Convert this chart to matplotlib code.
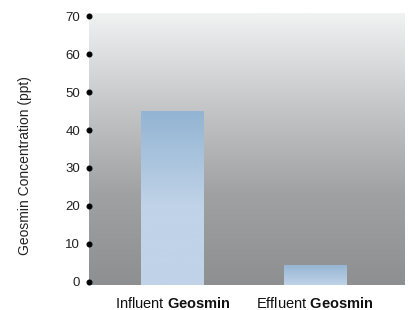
import numpy as np
import matplotlib
matplotlib.use("Agg")
import matplotlib.pyplot as plt
from matplotlib.colors import LinearSegmentedColormap

categories = ["Influent", "Effluent"]
values = [45, 4.5]
yticks = [0, 10, 20, 30, 40, 50, 60, 70]

plt.rcParams["font.family"] = ["Liberation Sans", "DejaVu Sans"]
plt.rcParams["mathtext.fontset"] = "custom"
plt.rcParams["mathtext.rm"] = "Liberation Sans"
plt.rcParams["mathtext.bf"] = "Liberation Sans:bold"

fig = plt.figure(figsize=(4.09, 3.10), dpi=100)
ax = fig.add_axes([89 / 409, 25 / 310, 315 / 409, 272 / 310])

ymin, ymax = -0.8, 70.8

# background gradient, light at top, darker grey at bottom
bg_cmap = LinearSegmentedColormap.from_list("bg", ["#f1f2f2", "#c6c7c9", "#a0a1a3", "#8e8f91"])
grad = np.linspace(0, 1, 256).reshape(-1, 1)
ax.imshow(grad, cmap=bg_cmap, extent=[0, 1, 0, 1], origin="upper",
          transform=ax.transAxes, aspect="auto", zorder=0)

# bars with blue gradient fading over the top ~25 units
x = np.arange(len(categories))
bars = ax.bar(x, [v - ymin for v in values], bottom=ymin, width=0.44,
              color="none", zorder=2)
for b in bars:
    bx, by = b.get_x(), b.get_y()
    bw, bh = b.get_width(), b.get_height()
    stop = min(1.0, 25 / bh)
    stops = [(0, "#93b4d3"), (stop, "#c0d3e8")]
    if stop < 1:
        stops.append((1, "#c0d3e8"))
    bar_cmap = LinearSegmentedColormap.from_list("bar", stops)
    im = ax.imshow(grad, cmap=bar_cmap, extent=[bx, bx + bw, by, by + bh],
                   aspect="auto", origin="upper", zorder=2)
    im.set_clip_path(b)
ax.set_xlim(-0.585, 1.625)
ax.set_ylim(ymin, ymax)

for s in ax.spines.values():
    s.set_visible(False)

ax.set_yticks(yticks)
ax.tick_params(axis="y", labelsize=9.5, labelcolor="#222222", pad=3)

ax.set_xticks(x)
ax.set_xticklabels([c + r" $\mathbf{Geosmin}$" for c in categories])
ax.tick_params(axis="x", length=0, pad=8, labelsize=10.5, labelcolor="#111111")

ax.set_ylabel("Geosmin Concentration (ppt)", fontsize=10, color="#222222")
ax.yaxis.set_label_coords(-0.18, 0.44)

# round black dots as y ticks
for t in ax.yaxis.get_major_ticks():
    t.tick1line.set_marker("o")
    t.tick1line.set_markersize(3.5)
    t.tick1line.set_markerfacecolor("black")
    t.tick1line.set_markeredgecolor("black")

fig.savefig("out.png", dpi=100)
